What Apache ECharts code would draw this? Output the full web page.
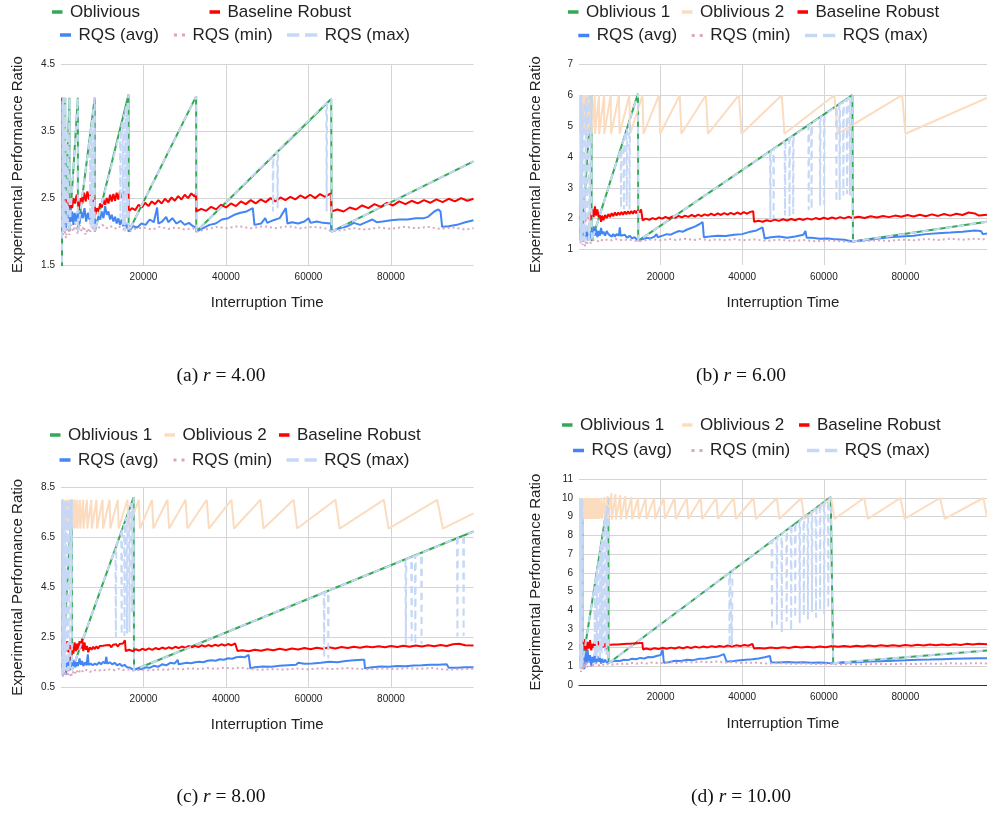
<!DOCTYPE html>
<html><head><meta charset="utf-8">
<script src="https://cdn.jsdelivr.net/npm/echarts@6/dist/echarts.min.js"></script>
<style>html,body{margin:0;padding:0;background:#fff}#c{width:987px;height:814px}</style>
</head><body><div id="c"></div>
<script>
// ---------------- DATA ----------------
const xTickLabels = [20000, 40000, 60000, 80000];
const yTicksA = [1.5, 2.5, 3.5, 4.5];
const yTicksB = [1, 2, 3, 4, 5, 6, 7];
const yTicksC = [0.5, 2.5, 4.5, 6.5, 8.5];
const yTicksD = [0, 1, 2, 3, 4, 5, 6, 7, 8, 9, 10, 11];
const captionTags = ['(a)', '(b)', '(c)', '(d)'];
const rValues = ['4.00', '6.00', '8.00', '10.00'];

// ---- panel (a) r = 4 ----
const obliviousA = [[240,1.0],[256,2.0],[510,4.0],[512,2.0],[1020,4.0],[1024,2.0],[2045,4.0],[2048,2.0],[4090,4.0],[4096,2.0],[8185,4.0],[8192,2.0],[16380,4.05],[16400,2.0],[32760,4.02],[32800,2.0],[65500,3.98],[65600,2.0],[100000,3.05]];
const baselineA = [[283,4.0],[300,2.45],[500,2.55],[700,2.35],[900,2.5],[1100,2.3],[1300,2.55],[1500,2.4],[1800,2.5],[2100,2.3],[2400,2.45],[2700,2.35],[3000,2.5],[3400,2.42],[3800,2.55],[4100,2.45],[4400,2.32],[4800,2.5],[5200,2.42],[5600,2.58],[6000,2.45],[6400,2.6],[6800,2.48],[7200,2.55],[7600,2.42],[8000,2.52],[8300,2.25],[8700,2.35],[9100,2.3],[9500,2.42],[9900,2.36],[10300,2.48],[10700,2.4],[11100,2.5],[11500,2.42],[11900,2.55],[12300,2.45],[12700,2.56],[13100,2.46],[13500,2.58],[13900,2.48],[14300,2.6],[14700,2.5],[15100,2.6],[15500,2.52],[15900,2.62],[16300,2.55],[16400,2.3],[17200,2.35],[18000,2.32],[18800,2.4],[19600,2.36],[20400,2.43],[21200,2.38],[22000,2.45],[22800,2.41],[23600,2.47],[24400,2.42],[25200,2.49],[26000,2.44],[26800,2.51],[27600,2.46],[28400,2.53],[29200,2.48],[30000,2.55],[30800,2.5],[31600,2.57],[32400,2.52],[32760,2.58],[32800,2.3],[34000,2.34],[35200,2.31],[36400,2.37],[37600,2.33],[38800,2.4],[40000,2.36],[41200,2.42],[42400,2.38],[43600,2.45],[44800,2.41],[46000,2.47],[47200,2.42],[48400,2.48],[49600,2.44],[50800,2.5],[52000,2.45],[53200,2.51],[54400,2.47],[55600,2.52],[56800,2.48],[58000,2.54],[59200,2.5],[60400,2.55],[61600,2.5],[62800,2.56],[64000,2.52],[65400,2.57],[65600,2.3],[67000,2.33],[68500,2.3],[70000,2.36],[71500,2.33],[73000,2.39],[74500,2.35],[76000,2.41],[77500,2.37],[79000,2.43],[80500,2.39],[82000,2.45],[83500,2.41],[85000,2.46],[86500,2.42],[88000,2.47],[89500,2.43],[91000,2.48],[92500,2.44],[94000,2.49],[95500,2.45],[97000,2.5],[98500,2.46],[100000,2.49]];
const rqsAvgA = [[283,2.4],[400,2.15],[600,2.35],[800,2.1],[1000,2.3],[1200,2.05],[1500,2.25],[1800,2.1],[2100,2.35],[2400,2.15],[2700,2.3],[3000,2.1],[3300,2.28],[3700,2.15],[4100,2.3],[4500,2.12],[4900,2.3],[5300,2.2],[5700,2.35],[6100,2.15],[6500,2.28],[6900,2.18],[7300,2.3],[7700,2.12],[8100,2.2],[8300,2.05],[8700,2.15],[9100,2.22],[9500,2.18],[9900,2.3],[10300,2.2],[10700,2.38],[11100,2.25],[11500,2.3],[11900,2.18],[12300,2.25],[12700,2.15],[13100,2.22],[13500,2.12],[13900,2.2],[14300,2.1],[14700,2.18],[15100,2.08],[15500,2.15],[15900,2.05],[16380,2.1],[16400,2.0],[17500,2.08],[18500,2.06],[19500,2.12],[20500,2.1],[21500,2.18],[22500,2.14],[23300,2.36],[23600,2.12],[24500,2.15],[25500,2.22],[26000,2.14],[27000,2.2],[28000,2.12],[29000,2.16],[30000,2.1],[31000,2.13],[32000,2.08],[32760,2.06],[32800,2.0],[34500,2.05],[36000,2.1],[37500,2.12],[39000,2.18],[40500,2.2],[42000,2.25],[43500,2.28],[45000,2.3],[46500,2.35],[46900,2.1],[48500,2.12],[49500,2.2],[50000,2.13],[51500,2.17],[53000,2.2],[54500,2.35],[54900,2.12],[56000,2.14],[57500,2.12],[59000,2.15],[60000,2.2],[60500,2.13],[62000,2.15],[63500,2.13],[65400,2.12],[65600,2.0],[67500,2.05],[69500,2.08],[71000,2.13],[72500,2.1],[74000,2.14],[75500,2.18],[76500,2.14],[78000,2.15],[80000,2.17],[82000,2.18],[84000,2.18],[86000,2.2],[88000,2.2],[89000,2.22],[90500,2.3],[91500,2.33],[92000,2.3],[92400,2.07],[94000,2.08],[96000,2.1],[98000,2.14],[100000,2.17]];
const rqsMinA = [[283,2.1],[500,1.95],[800,2.05],[1200,1.9],[1600,2.1],[2000,1.95],[2500,2.1],[3000,2.0],[3500,2.12],[4000,1.97],[4500,2.1],[5000,2.0],[5500,2.08],[6000,1.95],[6500,2.05],[7000,1.98],[7500,2.1],[8000,2.0],[9000,2.05],[10000,2.1],[11000,2.05],[12000,2.08],[13000,2.04],[14000,2.08],[15000,2.03],[16000,2.06],[16400,2.0],[18000,2.04],[20000,2.06],[22000,2.03],[24000,2.07],[26000,2.04],[28000,2.06],[30000,2.03],[32000,2.05],[32800,2.0],[35000,2.03],[38000,2.07],[40000,2.05],[43000,2.08],[46000,2.05],[49000,2.08],[52000,2.05],[55000,2.08],[58000,2.05],[61000,2.07],[64000,2.05],[65600,2.0],[68000,2.02],[71000,2.05],[74000,2.03],[77000,2.06],[80000,2.04],[83000,2.07],[86000,2.05],[89000,2.07],[92000,2.04],[95000,2.06],[98000,2.03],[100000,2.05]];
const rqsMaxA = [[240,1.0],[256,2.0],[300,2.34],[310,3.9],[320,2.1],[360,2.81],[370,3.95],[380,2.05],[420,3.28],[430,3.9],[440,2.1],[510,4.0],[512,2.0],[600,2.34],[620,3.9],[640,2.1],[700,2.73],[720,3.8],[740,2.0],[820,3.2],[840,3.9],[860,2.05],[1020,4.0],[1024,2.0],[1300,2.54],[1320,3.0],[1350,2.1],[1600,3.13],[1620,3.5],[1650,2.05],[2045,4.0],[2048,2.0],[4090,4.0],[4096,2.0],[7000,3.42],[7050,2.1],[7100,3.47],[7400,3.61],[7450,2.05],[7500,3.66],[7800,3.81],[7850,2.1],[7900,3.86],[8185,4.0],[8192,2.0],[14300,3.49],[14400,2.2],[14500,3.54],[14900,3.64],[15000,2.1],[15100,3.69],[15400,3.76],[15500,2.0],[15600,3.81],[15900,3.88],[16000,2.2],[16100,3.93],[16380,4.05],[16400,2.0],[32760,4.02],[32800,2.0],[51300,3.13],[51400,2.3],[51500,3.14],[52400,3.2],[52500,2.35],[52600,3.21],[64300,3.92],[64400,2.3],[64500,3.94],[65500,3.98],[65600,2.0],[100000,3.05]];

// ---- panel (b) r = 6 ----
const oblivious1B = [[300,1.3],[640,6.0],[660,1.28],[3060,6.0],[3100,1.28],[14450,6.05],[14520,1.28],[67000,6.0],[67150,1.26],[100000,1.9]];
const oblivious2B = [[300,5.9],[310,4.75],[385,6.0],[390,4.75],[485,6.0],[490,4.75],[610,6.0],[615,4.75],[770,6.0],[775,4.75],[970,6.0],[975,4.75],[1220,6.0],[1225,4.75],[1540,6.0],[1545,4.75],[1940,6.0],[1950,4.75],[2450,6.0],[2460,4.75],[3090,6.0],[3100,4.75],[3890,6.0],[3900,4.75],[4900,6.0],[4910,4.75],[6170,6.0],[6180,4.75],[7780,6.0],[7850,4.75],[9800,6.0],[9950,4.75],[12350,6.0],[12550,4.75],[15560,6.0],[15800,4.75],[19600,6.0],[19900,4.75],[24700,6.0],[25100,4.75],[31100,6.0],[31600,4.75],[39200,6.0],[39850,4.75],[49700,6.0],[50350,4.75],[62600,6.0],[63400,4.75],[79200,6.0],[80000,4.75],[100000,5.91]];
const baselineB = [[340,2.0],[500,2.2],[700,1.95],[900,2.15],[1100,2.0],[1300,2.25],[1500,1.9],[1800,2.15],[2100,2.0],[2400,2.2],[2700,1.95],[3000,2.1],[3300,2.3],[3600,2.05],[3900,2.4],[4200,2.1],[4500,2.3],[4800,2.05],[5100,2.15],[5400,1.9],[5700,2.1],[6000,1.95],[6400,2.12],[6800,2.02],[7200,2.15],[7600,2.05],[8000,2.18],[8400,2.08],[8800,2.2],[9200,2.1],[9600,2.2],[10000,2.12],[10400,2.22],[10800,2.13],[11200,2.23],[11600,2.14],[12000,2.24],[12400,2.15],[12800,2.25],[13200,2.16],[13600,2.26],[14000,2.18],[14400,2.27],[14800,2.2],[15200,2.3],[15500,2.32],[15600,1.95],[16400,2.0],[17200,1.96],[18000,2.02],[18800,1.98],[19600,2.04],[20400,2.0],[21200,2.06],[22000,2.01],[22800,2.07],[23600,2.03],[24400,2.09],[25200,2.04],[26000,2.1],[26800,2.06],[27600,2.12],[28400,2.07],[29200,2.13],[30000,2.08],[30800,2.14],[31600,2.1],[32400,2.16],[33200,2.11],[34000,2.17],[34800,2.12],[35600,2.18],[36400,2.13],[37200,2.19],[38000,2.14],[38800,2.2],[39600,2.15],[40400,2.21],[41200,2.16],[42000,2.22],[42700,2.24],[42900,1.9],[44000,1.93],[45000,1.9],[46000,1.95],[47000,1.92],[48000,1.97],[49000,1.93],[50000,1.98],[51000,1.94],[52000,1.99],[53000,1.95],[54000,2.0],[55000,1.96],[56000,2.01],[57000,1.97],[58000,2.02],[59000,1.98],[60000,2.03],[61000,1.99],[62000,2.04],[63000,2.0],[64000,2.05],[65000,2.01],[66000,2.06],[67000,2.02],[68500,2.06],[70000,2.02],[71500,2.08],[73000,2.04],[74500,2.09],[76000,2.05],[77500,2.1],[79000,2.06],[80500,2.12],[82000,2.07],[83500,2.13],[85000,2.08],[86500,2.14],[88000,2.09],[89500,2.15],[91000,2.1],[92500,2.16],[94000,2.12],[95500,2.2],[97000,2.17],[98000,2.1],[100000,2.13]];
const rqsAvgB = [[340,1.3],[500,1.85],[700,1.4],[900,1.7],[1100,1.25],[1300,1.6],[1500,1.35],[1800,1.75],[2100,1.3],[2400,1.55],[2700,1.35],[3000,1.6],[3300,1.4],[3600,1.75],[3900,1.45],[4200,1.65],[4500,1.4],[4800,1.6],[5100,1.45],[5400,1.7],[5700,1.5],[6000,1.58],[6400,1.45],[6800,1.6],[7200,1.5],[7600,1.55],[8000,1.42],[8400,1.5],[8800,1.42],[9200,1.5],[9800,1.45],[10000,1.72],[10200,1.45],[10600,1.42],[11200,1.48],[11800,1.38],[12400,1.45],[13000,1.36],[13600,1.4],[14400,1.3],[14520,1.26],[15500,1.33],[16500,1.38],[17500,1.36],[18500,1.42],[19000,1.5],[19300,1.4],[20500,1.45],[21500,1.5],[22500,1.48],[23500,1.55],[24500,1.6],[25500,1.58],[26500,1.65],[27500,1.7],[28500,1.75],[29500,1.82],[30300,1.89],[30600,1.4],[32000,1.42],[34000,1.45],[36000,1.44],[38000,1.48],[40000,1.5],[42000,1.58],[43500,1.62],[45000,1.72],[45500,1.36],[47000,1.4],[49000,1.42],[51000,1.38],[53000,1.42],[55000,1.48],[55500,1.6],[55800,1.38],[57000,1.38],[59000,1.35],[61000,1.36],[63000,1.33],[65000,1.32],[67000,1.26],[70000,1.3],[73000,1.35],[76000,1.4],[79000,1.42],[82000,1.45],[85000,1.5],[88000,1.53],[91000,1.55],[94000,1.58],[97000,1.62],[98500,1.6],[99000,1.5],[100000,1.52]];
const rqsMinB = [[340,1.2],[600,1.35],[900,1.15],[1200,1.3],[1500,1.1],[1800,1.3],[2100,1.2],[2500,1.35],[2900,1.2],[3300,1.3],[3700,1.25],[4200,1.32],[4700,1.27],[5200,1.33],[6000,1.28],[7000,1.33],[8000,1.3],[9000,1.34],[10000,1.3],[11000,1.33],[12000,1.3],[13000,1.32],[14500,1.26],[16000,1.3],[18000,1.33],[20000,1.3],[22000,1.34],[24000,1.31],[26000,1.35],[28000,1.31],[30000,1.34],[32000,1.3],[34000,1.33],[36000,1.3],[38000,1.34],[40000,1.3],[43000,1.33],[46000,1.28],[49000,1.32],[52000,1.28],[55000,1.31],[58000,1.27],[61000,1.3],[64000,1.27],[67000,1.25],[70000,1.28],[73000,1.3],[76000,1.28],[79000,1.32],[82000,1.3],[85000,1.34],[88000,1.31],[91000,1.35],[94000,1.32],[97000,1.35],[100000,1.33]];
const rqsMaxB = [[300,1.3],[320,6.0],[360,1.3],[400,5.9],[440,1.25],[500,6.0],[540,1.3],[600,5.8],[640,6.0],[660,1.28],[900,5.5],[950,1.3],[1300,5.8],[1350,1.25],[1800,5.9],[1850,1.3],[2400,6.0],[2450,1.3],[3060,6.0],[3100,1.28],[10200,4.26],[10300,2.35],[10400,4.34],[10900,4.56],[11000,2.3],[11100,4.64],[11600,4.85],[11700,2.4],[11800,4.94],[12300,5.14],[12400,2.3],[12500,5.23],[14450,6.05],[14520,1.28],[46800,4.18],[46900,1.95],[47000,4.2],[47600,4.25],[47700,2.0],[47800,4.27],[50400,4.51],[50500,2.1],[50600,4.53],[51500,4.61],[51600,2.05],[51700,4.63],[52400,4.69],[52500,2.15],[52600,4.7],[56200,5.02],[56300,2.27],[56400,5.04],[56900,5.08],[57000,2.3],[57100,5.1],[59000,5.27],[59100,2.43],[59200,5.29],[60000,5.36],[60100,2.45],[60200,5.38],[63000,5.63],[63100,2.54],[63200,5.65],[63800,5.71],[63900,2.6],[64000,5.72],[64700,5.78],[64800,2.75],[64900,5.8],[65600,5.87],[65700,2.8],[65800,5.89],[66300,5.93],[66400,2.75],[66500,5.95],[67000,6.0],[67150,1.26],[100000,1.9]];

// ---- panel (c) r = 8 ----
const oblivious1C = [[250,1.0],[390,8.0],[400,1.19],[2630,8.0],[2660,1.19],[17600,8.1],[17700,1.19],[100000,6.73]];
const oblivious2C = [[300,7.9],[320,6.85],[370,8.0],[375,6.85],[430,8.0],[436,6.85],[505,8.0],[512,6.85],[590,8.0],[598,6.85],[690,8.0],[700,6.85],[810,8.0],[820,6.85],[950,8.0],[962,6.85],[1115,8.0],[1130,6.85],[1300,8.0],[1318,6.85],[1530,8.0],[1550,6.85],[1790,8.0],[1815,6.85],[2090,8.0],[2120,6.85],[2450,8.0],[2485,6.85],[2865,8.0],[2905,6.85],[3350,8.0],[3400,6.85],[3920,8.0],[3980,6.85],[4590,8.0],[4660,6.85],[5370,8.0],[5450,6.85],[6280,8.0],[6380,6.85],[7350,8.0],[7460,6.85],[8600,8.0],[8730,6.85],[10060,8.0],[10210,6.85],[11770,8.0],[11950,6.85],[13770,8.0],[13980,6.85],[16110,8.0],[16350,6.85],[18850,8.0],[19130,6.85],[22060,8.0],[22390,6.85],[25810,8.0],[26200,6.85],[30200,8.0],[30650,6.85],[35330,8.0],[35860,6.85],[41330,8.0],[41950,6.85],[48360,8.0],[49090,6.85],[56400,8.0],[57250,6.85],[66550,8.0],[67550,6.85],[78250,8.0],[79420,6.85],[91200,8.0],[92570,6.85],[100000,7.46]];
const baselineC = [[283,2.2],[500,1.9],[700,2.3],[900,1.85],[1100,2.2],[1300,1.95],[1500,2.35],[1800,1.9],[2100,2.2],[2400,1.6],[2700,2.1],[3000,1.85],[3300,2.3],[3600,1.95],[3900,2.25],[4200,2.0],[4500,2.35],[4800,2.05],[5100,2.45],[5400,1.95],[5700,2.3],[6000,2.0],[6300,2.15],[6600,1.9],[7000,2.1],[7400,2.0],[7800,2.12],[8200,2.03],[8600,2.14],[9000,2.05],[9400,2.15],[9800,2.07],[10200,2.16],[10600,2.08],[11000,2.18],[11400,2.1],[11800,2.19],[12200,2.1],[12600,2.2],[13000,2.12],[13400,2.22],[13800,2.13],[14200,2.23],[14600,2.15],[15000,2.25],[15500,2.38],[15700,1.95],[16500,2.0],[17300,1.95],[18100,2.02],[18900,1.97],[19700,2.04],[20500,1.99],[21300,2.06],[22100,2.0],[22900,2.07],[23700,2.02],[24500,2.09],[25300,2.04],[26100,2.1],[26900,2.05],[27700,2.12],[28500,2.07],[29300,2.13],[30100,2.08],[30900,2.15],[31700,2.1],[32500,2.16],[33300,2.11],[34100,2.18],[34900,2.13],[35700,2.19],[36500,2.14],[37300,2.2],[38100,2.16],[38900,2.22],[39700,2.17],[40500,2.23],[41300,2.18],[42200,2.26],[42600,2.28],[42800,1.95],[44000,1.98],[45500,1.94],[47000,2.0],[48500,1.96],[50000,2.02],[51500,1.98],[53000,2.04],[54500,1.99],[56000,2.05],[57500,2.01],[59000,2.07],[60500,2.02],[62000,2.08],[63500,2.04],[65000,2.1],[66500,2.05],[68000,2.11],[69500,2.07],[71000,2.12],[72500,2.08],[74000,2.13],[75500,2.1],[77000,2.14],[78500,2.1],[80000,2.15],[81500,2.11],[83000,2.16],[84500,2.12],[86000,2.17],[87500,2.13],[89000,2.18],[90500,2.14],[92000,2.19],[93500,2.15],[95000,2.22],[96500,2.24],[98000,2.18],[100000,2.17]];
const rqsAvgC = [[283,1.5],[450,1.1],[650,1.7],[850,1.2],[1050,1.55],[1250,1.0],[1450,1.6],[1700,1.3],[2000,1.75],[2300,1.2],[2600,1.5],[2900,1.25],[3200,1.6],[3500,1.3],[3800,1.5],[4100,1.35],[4500,1.65],[4800,1.4],[5100,1.55],[5400,1.35],[5800,1.5],[6200,1.38],[6500,1.82],[6700,1.4],[7200,1.45],[7700,1.38],[8200,1.45],[8700,1.4],[9200,1.5],[9700,1.42],[10200,1.52],[10700,1.45],[11000,1.72],[11200,1.45],[11800,1.5],[12400,1.42],[13000,1.48],[13600,1.38],[14200,1.44],[14800,1.35],[15400,1.4],[16000,1.3],[16800,1.28],[17650,1.19],[18500,1.25],[19500,1.22],[20500,1.3],[21500,1.28],[22500,1.36],[23500,1.32],[24500,1.42],[25500,1.38],[26500,1.48],[27500,1.45],[28300,1.6],[28500,1.42],[29500,1.45],[30500,1.48],[31500,1.46],[32500,1.5],[33500,1.52],[34500,1.5],[35500,1.56],[36500,1.58],[37500,1.56],[38500,1.62],[39500,1.6],[40500,1.66],[41500,1.64],[42500,1.7],[43500,1.72],[44500,1.7],[45500,1.8],[45900,1.26],[47000,1.3],[49000,1.33],[51000,1.32],[53000,1.36],[55000,1.38],[57000,1.4],[57500,1.48],[57800,1.42],[59000,1.44],[61000,1.45],[63000,1.48],[65000,1.52],[67000,1.5],[69000,1.55],[71000,1.58],[73000,1.6],[73500,1.6],[73700,1.26],[75500,1.3],[77500,1.33],[79500,1.32],[81500,1.35],[83500,1.34],[85500,1.37],[87500,1.38],[89500,1.4],[91500,1.4],[93500,1.42],[94000,1.28],[96000,1.28],[98000,1.3],[100000,1.3]];
const rqsMinC = [[283,1.2],[500,0.9],[800,1.25],[1100,0.95],[1400,1.3],[1700,1.0],[2000,1.2],[2400,0.9],[2800,1.15],[3200,1.0],[3700,1.2],[4200,1.05],[4800,1.22],[5500,1.1],[6200,1.2],[7000,1.12],[8000,1.2],[9000,1.15],[10000,1.22],[11000,1.17],[12000,1.23],[13000,1.18],[14000,1.24],[15000,1.19],[16000,1.22],[17650,1.17],[19500,1.2],[21500,1.18],[23500,1.22],[25500,1.2],[27500,1.25],[29500,1.22],[31500,1.26],[33500,1.23],[35500,1.27],[37500,1.24],[39500,1.28],[41500,1.25],[43500,1.29],[45500,1.24],[48000,1.2],[51000,1.23],[54000,1.21],[57000,1.25],[60000,1.22],[63000,1.26],[66000,1.23],[69000,1.27],[72000,1.24],[75000,1.22],[78000,1.25],[81000,1.23],[84000,1.26],[87000,1.24],[90000,1.27],[93000,1.21],[96000,1.22],[100000,1.24]];
const rqsMaxC = [[250,1.0],[300,7.9],[320,1.1],[350,7.95],[370,1.2],[390,8.0],[400,1.19],[600,7.8],[650,1.1],[900,7.9],[950,1.2],[1300,7.95],[1350,1.15],[1700,7.9],[1750,1.2],[2200,8.0],[2250,1.15],[2630,8.0],[2660,1.19],[13200,6.07],[13300,2.5],[13400,6.16],[14600,6.7],[14700,2.6],[14800,6.8],[15300,7.03],[15400,2.55],[15500,7.12],[15900,7.31],[16000,2.65],[16100,7.4],[16500,7.59],[16600,2.7],[16700,7.68],[17100,7.87],[17200,3.5],[17300,7.96],[17600,8.1],[17700,1.19],[63700,4.29],[63800,1.7],[63900,4.3],[64700,4.36],[64800,1.65],[64900,4.37],[83500,5.62],[83600,2.2],[83700,5.63],[84900,5.71],[85000,2.25],[85100,5.72],[85800,5.77],[85900,2.2],[86000,5.78],[87300,5.87],[87400,2.22],[87500,5.88],[96000,6.46],[96100,2.53],[96200,6.47],[97500,6.56],[97600,2.55],[97700,6.57],[100000,6.73]];

// ---- panel (d) r = 10 ----
const oblivious1D = [[250,0.9],[830,10.0],[850,1.16],[7180,10.0],[7250,1.16],[61700,10.05],[62300,1.16],[100000,1.85]];
const oblivious2D = [[300,9.95],[310,8.88],[346,10.0],[350,8.88],[390,10.0],[395,8.88],[440,10.0],[445,8.88],[497,10.0],[503,8.88],[560,10.0],[567,8.88],[632,10.0],[640,8.88],[713,10.0],[722,8.88],[804,10.0],[814,8.88],[907,10.0],[918,8.88],[1023,10.0],[1036,8.88],[1155,10.0],[1170,8.88],[1300,10.0],[1316,8.88],[1470,10.0],[1488,8.88],[1655,10.0],[1676,8.88],[1870,10.0],[1894,8.88],[2110,10.0],[2137,8.88],[2380,10.0],[2410,8.88],[2680,10.0],[2714,8.88],[3025,10.0],[3063,8.88],[3410,10.0],[3453,8.88],[3850,10.0],[3899,8.88],[4340,10.0],[4395,8.88],[4900,10.0],[4962,8.88],[5525,10.0],[5595,8.88],[6230,10.05],[6310,8.88],[7030,10.1],[7120,8.85],[7930,10.25],[8030,8.85],[8945,10.2],[9060,8.85],[10090,10.15],[10220,8.85],[11380,10.1],[11530,8.86],[12840,10.05],[13000,8.87],[14480,10.0],[14670,8.88],[16330,10.0],[16540,8.88],[18420,10.0],[18660,8.88],[20780,10.0],[21050,8.88],[23440,10.0],[23740,8.88],[26440,10.0],[26780,8.88],[29820,10.0],[30200,8.88],[33640,10.0],[34070,8.88],[37940,10.0],[38430,8.88],[42800,10.0],[43350,8.88],[48500,10.0],[49120,8.88],[54500,10.0],[55200,8.88],[61800,10.0],[62600,8.88],[69900,10.0],[70800,8.88],[78800,10.0],[79800,8.88],[88500,10.0],[89640,8.88],[99100,10.0],[100000,9.0]];
const baselineD = [[340,2.2],[500,1.8],[700,2.4],[900,1.7],[1100,2.3],[1300,1.9],[1500,2.45],[1800,1.8],[2100,2.3],[2400,1.95],[2700,2.4],[3000,1.85],[3300,2.2],[3600,2.0],[3900,2.35],[4200,1.9],[4500,2.45],[4800,2.0],[5100,2.3],[5400,1.95],[5700,2.25],[6000,2.0],[6300,2.35],[6600,1.9],[7000,2.15],[7400,2.05],[7800,2.15],[8200,2.05],[8600,2.16],[9000,2.06],[9400,2.17],[9800,2.07],[10200,2.18],[10600,2.08],[11000,2.19],[11400,2.09],[11800,2.2],[12200,2.1],[12600,2.21],[13000,2.11],[13400,2.22],[13800,2.12],[14200,2.23],[14600,2.13],[15000,2.24],[15500,2.26],[15700,1.9],[16500,1.95],[17500,1.9],[18500,1.97],[19500,1.92],[20500,1.99],[21500,1.94],[22500,2.0],[23500,1.95],[24500,2.02],[25500,1.97],[26500,2.03],[27500,1.98],[28500,2.05],[29500,2.0],[30500,2.06],[31500,2.01],[32500,2.08],[33500,2.03],[34500,2.09],[35500,2.04],[36500,2.11],[37500,2.06],[38500,2.12],[39500,2.08],[40500,2.14],[41500,2.1],[42500,2.2],[42900,1.95],[44000,1.98],[45500,1.95],[47000,2.0],[48500,1.96],[50000,2.02],[51500,1.98],[53000,2.04],[54500,2.0],[56000,2.05],[57500,2.01],[59000,2.06],[60500,2.02],[62000,2.08],[63500,2.04],[65000,2.09],[66500,2.05],[68000,2.1],[69500,2.06],[71000,2.11],[72500,2.07],[74000,2.12],[75500,2.08],[77000,2.13],[78500,2.09],[80000,2.14],[81500,2.1],[83000,2.15],[84500,2.11],[86000,2.16],[87500,2.12],[89000,2.17],[90500,2.13],[92000,2.18],[93500,2.14],[95000,2.2],[96500,2.16],[98000,2.2],[100000,2.18]];
const rqsAvgD = [[340,1.4],[500,0.9],[700,1.7],[900,1.0],[1100,1.6],[1300,0.85],[1500,1.8],[1800,1.1],[2100,1.9],[2400,1.2],[2700,1.6],[3000,1.0],[3300,1.5],[3600,1.2],[3900,1.7],[4200,1.15],[4500,1.55],[4800,1.25],[5100,1.45],[5400,1.15],[5700,1.4],[6000,1.2],[6400,1.35],[6800,1.2],[7250,1.16],[8000,1.25],[9000,1.3],[10000,1.28],[11000,1.35],[12000,1.33],[13000,1.4],[14000,1.38],[15000,1.45],[16000,1.42],[17000,1.5],[18000,1.48],[19000,1.55],[20000,1.6],[20500,1.9],[20800,1.19],[22000,1.22],[23500,1.3],[25000,1.28],[26500,1.35],[28000,1.33],[29500,1.4],[31000,1.42],[32500,1.48],[34000,1.52],[35500,1.65],[35900,1.69],[36200,1.25],[38000,1.28],[39500,1.32],[41000,1.35],[42500,1.38],[44000,1.42],[45500,1.48],[46800,1.55],[47100,1.22],[49000,1.2],[51000,1.23],[53000,1.2],[55000,1.22],[57000,1.19],[59000,1.2],[61000,1.17],[62300,1.16],[65000,1.2],[68000,1.22],[71000,1.25],[74000,1.27],[77000,1.3],[80000,1.32],[83000,1.35],[86000,1.36],[89000,1.38],[92000,1.4],[95000,1.42],[98000,1.43],[100000,1.43]];
const rqsMinD = [[340,1.0],[500,0.7],[700,1.2],[900,0.8],[1100,1.3],[1400,0.9],[1700,1.2],[2000,0.95],[2400,1.25],[2800,1.0],[3200,1.15],[3700,1.0],[4200,1.2],[4800,1.05],[5500,1.15],[6200,1.05],[7000,1.12],[8000,1.08],[9000,1.14],[10000,1.1],[11000,1.16],[12000,1.12],[13000,1.18],[14000,1.14],[15000,1.2],[16500,1.15],[18000,1.2],[20000,1.16],[22000,1.22],[24000,1.18],[26000,1.23],[28000,1.2],[30000,1.25],[32000,1.21],[34000,1.26],[36000,1.2],[38000,1.22],[40000,1.18],[43000,1.2],[46000,1.15],[49000,1.17],[52000,1.13],[55000,1.15],[58000,1.12],[61000,1.14],[64000,1.1],[67000,1.12],[70000,1.1],[73000,1.13],[76000,1.11],[79000,1.14],[82000,1.12],[85000,1.15],[88000,1.13],[91000,1.16],[94000,1.14],[97000,1.17],[100000,1.15]];
const rqsMaxD = [[250,0.9],[280,9.9],[300,0.9],[330,9.95],[360,1.0],[400,9.9],[430,0.95],[480,10.0],[510,1.0],[560,9.9],[590,0.9],[650,9.95],[680,1.0],[740,9.9],[770,1.0],[830,10.0],[850,1.16],[3800,5.28],[3850,1.5],[3900,5.42],[4300,5.98],[4350,1.4],[4400,6.12],[4700,6.54],[4750,1.6],[4800,6.68],[5100,7.1],[5150,1.45],[5200,7.24],[5500,7.65],[5550,1.7],[5600,7.79],[5900,8.21],[5950,2.0],[6000,8.35],[6300,8.77],[6350,1.8],[6400,8.91],[6700,9.33],[6750,1.6],[6800,9.47],[7180,10.0],[7250,1.16],[36800,5.99],[36900,2.05],[37000,6.02],[37400,6.09],[37500,2.1],[37600,6.12],[47200,7.68],[47300,2.9],[47400,7.71],[48400,7.87],[48500,3.2],[48600,7.9],[49600,8.07],[49700,2.8],[49800,8.1],[50800,8.27],[50900,3.4],[51000,8.3],[51900,8.45],[52000,2.9],[52100,8.48],[52900,8.62],[53000,3.6],[53100,8.64],[54000,8.79],[54100,3.3],[54200,8.82],[55000,8.95],[55100,3.7],[55200,8.97],[56000,9.12],[56100,3.5],[56200,9.15],[57000,9.28],[57100,3.9],[57200,9.31],[58000,9.45],[58100,3.6],[58200,9.47],[59000,9.61],[59100,4.0],[59200,9.63],[60000,9.77],[60100,3.8],[60200,9.8],[61000,9.93],[61100,4.1],[61200,9.95],[61700,10.05],[62300,1.16],[100000,1.85]];

// ---------------- STYLE / LAYOUT ----------------
const FONT = '"Liberation Sans", Arial, sans-serif';
const GRID = '#d4d4d4';
const T = 'rgba(0,0,0,0)';
const C = { obl1: '#34a853', obl2: '#fcdcbf', base: '#ff0000', avg: '#4285f4', min: '#d9a6bf', max: '#c6d8f6' };

const panels = [
  { grid: {left: 61, top: 64.3, width: 412.5, height: 200.7},
    y: {min: 1.5, max: 4.5, interval: 0.5, ticks: yTicksA, colors: [GRID, T]},
    series: [['Oblivious', obliviousA, 'obl1'], ['Baseline Robust', baselineA, 'base'], ['RQS (avg)', rqsAvgA, 'avg'], ['RQS (min)', rqsMinA, 'min'], ['RQS (max)', rqsMaxA, 'max']],
    legend: [['Oblivious', 52, 12], ['Baseline Robust', 209.5, 12], ['RQS (avg)', 60, 35], ['RQS (min)', 174, 35], ['RQS (max)', 287, 35]],
    caption: {x: 221, y: 376} },
  { grid: {left: 579, top: 64.3, width: 412, height: 200.7},
    y: {min: 0.5, max: 7, interval: 0.5, ticks: yTicksB, colors: [T, GRID]},
    series: [['Oblivious 1', oblivious1B, 'obl1'], ['Oblivious 2', oblivious2B, 'obl2'], ['Baseline Robust', baselineB, 'base'], ['RQS (avg)', rqsAvgB, 'avg'], ['RQS (min)', rqsMinB, 'min'], ['RQS (max)', rqsMaxB, 'max']],
    legend: [['Oblivious 1', 568, 12], ['Oblivious 2', 682, 12], ['Baseline Robust', 797.5, 12], ['RQS (avg)', 578.3, 35.5], ['RQS (min)', 691.7, 35.5], ['RQS (max)', 805, 35.5]],
    caption: {x: 741, y: 376} },
  { grid: {left: 61, top: 487.3, width: 412.5, height: 200},
    y: {min: 0.5, max: 8.5, interval: 0.5, ticks: yTicksC, colors: [GRID, T, T, T]},
    series: [['Oblivious 1', oblivious1C, 'obl1'], ['Oblivious 2', oblivious2C, 'obl2'], ['Baseline Robust', baselineC, 'base'], ['RQS (avg)', rqsAvgC, 'avg'], ['RQS (min)', rqsMinC, 'min'], ['RQS (max)', rqsMaxC, 'max']],
    legend: [['Oblivious 1', 50, 435], ['Oblivious 2', 164.5, 435], ['Baseline Robust', 279, 435], ['RQS (avg)', 59.5, 460], ['RQS (min)', 173.5, 460], ['RQS (max)', 286.5, 460]],
    caption: {x: 221, y: 797} },
  { grid: {left: 579, top: 479.3, width: 412, height: 205.7},
    y: {min: 0, max: 11, interval: 1, ticks: yTicksD, darkBase: true},
    series: [['Oblivious 1', oblivious1D, 'obl1'], ['Oblivious 2', oblivious2D, 'obl2'], ['Baseline Robust', baselineD, 'base'], ['RQS (avg)', rqsAvgD, 'avg'], ['RQS (min)', rqsMinD, 'min'], ['RQS (max)', rqsMaxD, 'max']],
    legend: [['Oblivious 1', 562, 425], ['Oblivious 2', 682, 425], ['Baseline Robust', 799, 425], ['RQS (avg)', 573, 450.5], ['RQS (min)', 691.5, 450.5], ['RQS (max)', 807, 450.5]],
    caption: {x: 741, y: 797} }
];

const lineTypes = { obl1: 'solid', obl2: 'solid', base: 'solid', avg: 'solid', min: [2, 3], max: [7, 5] };
const icons = {
  obl1: {icon: 'rect', w: 10.5, h: 3.5},
  obl2: {icon: 'rect', w: 10.5, h: 3.5},
  base: {icon: 'rect', w: 10.5, h: 3.5},
  avg: {icon: 'rect', w: 11, h: 3.5},
  min: {icon: 'path://M0,0h3v3h-3z M8,0h3v3h-3z', w: 11, h: 3},
  max: {icon: 'path://M0,0h12.3v3.7h-12.3z M18,0h12.3v3.7h-12.3z', w: 30.3, h: 3.7}
};
const keyOf = {};
panels.forEach(p => p.series.forEach(s => { keyOf[s[0]] = s[2]; }));

const option = { animation: false, backgroundColor: '#fff', textStyle: {fontFamily: FONT},
  grid: [], xAxis: [], yAxis: [], series: [], legend: [], title: [] };

panels.forEach((p, i) => {
  option.grid.push(Object.assign({}, p.grid));
  option.xAxis.push({
    type: 'value', gridIndex: i, min: 0, max: 100000, interval: 20000,
    name: 'Interruption Time', nameLocation: 'middle', nameGap: i === 3 ? 31 : 30,
    nameTextStyle: {fontSize: 15, color: '#222', fontFamily: FONT},
    axisLine: {show: !!p.y.darkBase, onZero: false, lineStyle: {color: '#333', width: 1.2}},
    axisTick: {show: false},
    axisLabel: {showMinLabel: false, showMaxLabel: false, fontSize: 10, color: '#222', margin: 7, fontFamily: FONT,
      formatter: v => xTickLabels.includes(v) ? String(v) : ''},
    splitLine: {show: true, showMinLine: false, showMaxLine: false, lineStyle: {color: GRID, width: 1}}
  });
  const yax = {
    type: 'value', gridIndex: i, min: p.y.min, max: p.y.max, interval: p.y.interval,
    name: 'Experimental Performance Ratio', nameLocation: 'middle', nameGap: 36,
    nameTextStyle: {fontSize: 15, color: '#222', fontFamily: FONT},
    axisLine: {show: false}, axisTick: {show: false},
    axisLabel: {fontSize: 10, color: '#222', margin: 6, fontFamily: FONT,
      formatter: v => p.y.ticks.some(t => Math.abs(t - v) < 1e-9) ? String(v) : ''},
    splitLine: {show: true, showMinLine: !p.y.darkBase, lineStyle: {color: p.y.colors || GRID, width: 1}}
  };
  option.yAxis.push(yax);
  p.series.forEach(s => {
    const k = s[2];
    option.series.push({
      name: s[0], type: 'line', xAxisIndex: i, yAxisIndex: i, data: s[1],
      symbol: 'none', clip: true, silent: true,
      lineStyle: {color: C[k], width: 2, type: lineTypes[k], cap: 'butt'},
      itemStyle: {color: C[k]}, z: 2
    });
  });
  p.legend.forEach(l => {
    const k = keyOf[l[0]];
    const ic = icons[k];
    option.legend.push({
      left: l[1], top: l[2] - 10, padding: 0, selectedMode: false,
      itemWidth: ic.w, itemHeight: ic.h, icon: ic.icon,
      data: [{name: l[0], itemStyle: {color: C[k], borderWidth: 0}}],
      textStyle: {fontSize: 17, color: '#222', fontFamily: FONT, lineHeight: 20, padding: [0, 0, 0, 2.5]}
    });
  });
  option.title.push({
    text: captionTags[i] + ' {i|r} = ' + rValues[i],
    left: p.caption.x, top: p.caption.y - 12, textAlign: 'center', padding: 0,
    textStyle: {fontFamily: '"Liberation Serif", "DejaVu Serif", serif', fontSize: 19.5, fontWeight: 'normal', color: '#111', lineHeight: 24,
      rich: {i: {fontFamily: '"Liberation Serif", "DejaVu Serif", serif', fontStyle: 'italic', fontSize: 19.5, color: '#111', lineHeight: 24}}}
  });
});

const chart = echarts.init(document.getElementById('c'), null, {renderer: 'canvas'});
chart.setOption(option);
</script>
</body></html>
